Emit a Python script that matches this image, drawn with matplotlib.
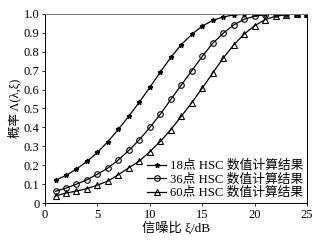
import numpy as np
import matplotlib
matplotlib.use("Agg")
import matplotlib.pyplot as plt

plt.rcParams['font.family'] = ['Liberation Serif', 'Noto Sans CJK SC', 'DejaVu Sans']

# 信噪比 (dB)
snr = list(range(1, 26))

# 三条曲线的概率值
p18 = [0.12, 0.146, 0.18, 0.22, 0.268, 0.325, 0.39, 0.46, 0.534, 0.612,
       0.693, 0.77, 0.838, 0.892, 0.936, 0.966, 0.984, 0.995, 0.998, 1.0,
       1.0, 1.0, 1.0, 1.0, 1.0]
p36 = [0.062, 0.079, 0.10, 0.123, 0.153, 0.185, 0.228, 0.279, 0.335, 0.40,
       0.47, 0.548, 0.624, 0.70, 0.776, 0.845, 0.898, 0.942, 0.972, 0.988,
       0.996, 1.0, 1.0, 1.0, 1.0]
p60 = [0.037, 0.053, 0.063, 0.076, 0.095, 0.116, 0.15, 0.187, 0.222, 0.272,
       0.326, 0.388, 0.459, 0.531, 0.608, 0.688, 0.767, 0.836, 0.894, 0.938,
       0.97, 0.988, 0.996, 1.0, 1.0]

labels = ['18点 HSC 数值计算结果', '36点 HSC 数值计算结果', '60点 HSC 数值计算结果']
xticks = [0, 5, 10, 15, 20, 25]
yticks = [0, 0.1, 0.2, 0.3, 0.4, 0.5, 0.6, 0.7, 0.8, 0.9, 1.0]
ytick_labels = ['0', '0.1', '0.2', '0.3', '0.4', '0.5', '0.6', '0.7', '0.8', '0.9', '1.0']

fig = plt.figure(figsize=(3.24, 2.4), dpi=100)
ax = fig.add_axes([0.139, 0.154, 0.809, 0.788])

ax.plot(snr, p18, color='black', lw=0.9, marker='*', ms=3.5, label=labels[0])
ax.plot(snr, p36, color='black', lw=0.9, marker='o', ms=4, mfc='none', mew=0.8, label=labels[1])
ax.plot(snr, p60, color='black', lw=0.9, marker='^', ms=4.5, mfc='none', mew=0.8, label=labels[2])

ax.set_xlim(0, 25)
ax.set_ylim(0, 1.0)
ax.set_xticks(xticks)
ax.set_yticks(yticks)
ax.set_yticklabels(ytick_labels)
ax.tick_params(labelsize=9, length=2.5, width=0.6, direction='out', pad=1.5)
for s in ax.spines.values():
    s.set_linewidth(0.7)
ax.spines['top'].set_color('#777777')

ax.set_xlabel('信噪比 ξ/dB', fontsize=9.5, labelpad=0)
ax.set_ylabel('概率 Λ(λ,ξ)', fontsize=9, labelpad=2)

ax.legend(loc='lower right', frameon=False, fontsize=9.2, handlelength=1.5,
          handletextpad=0.3, labelspacing=0.1, borderaxespad=0.1,
          borderpad=0.2)

fig.savefig('out.png', dpi=100)
